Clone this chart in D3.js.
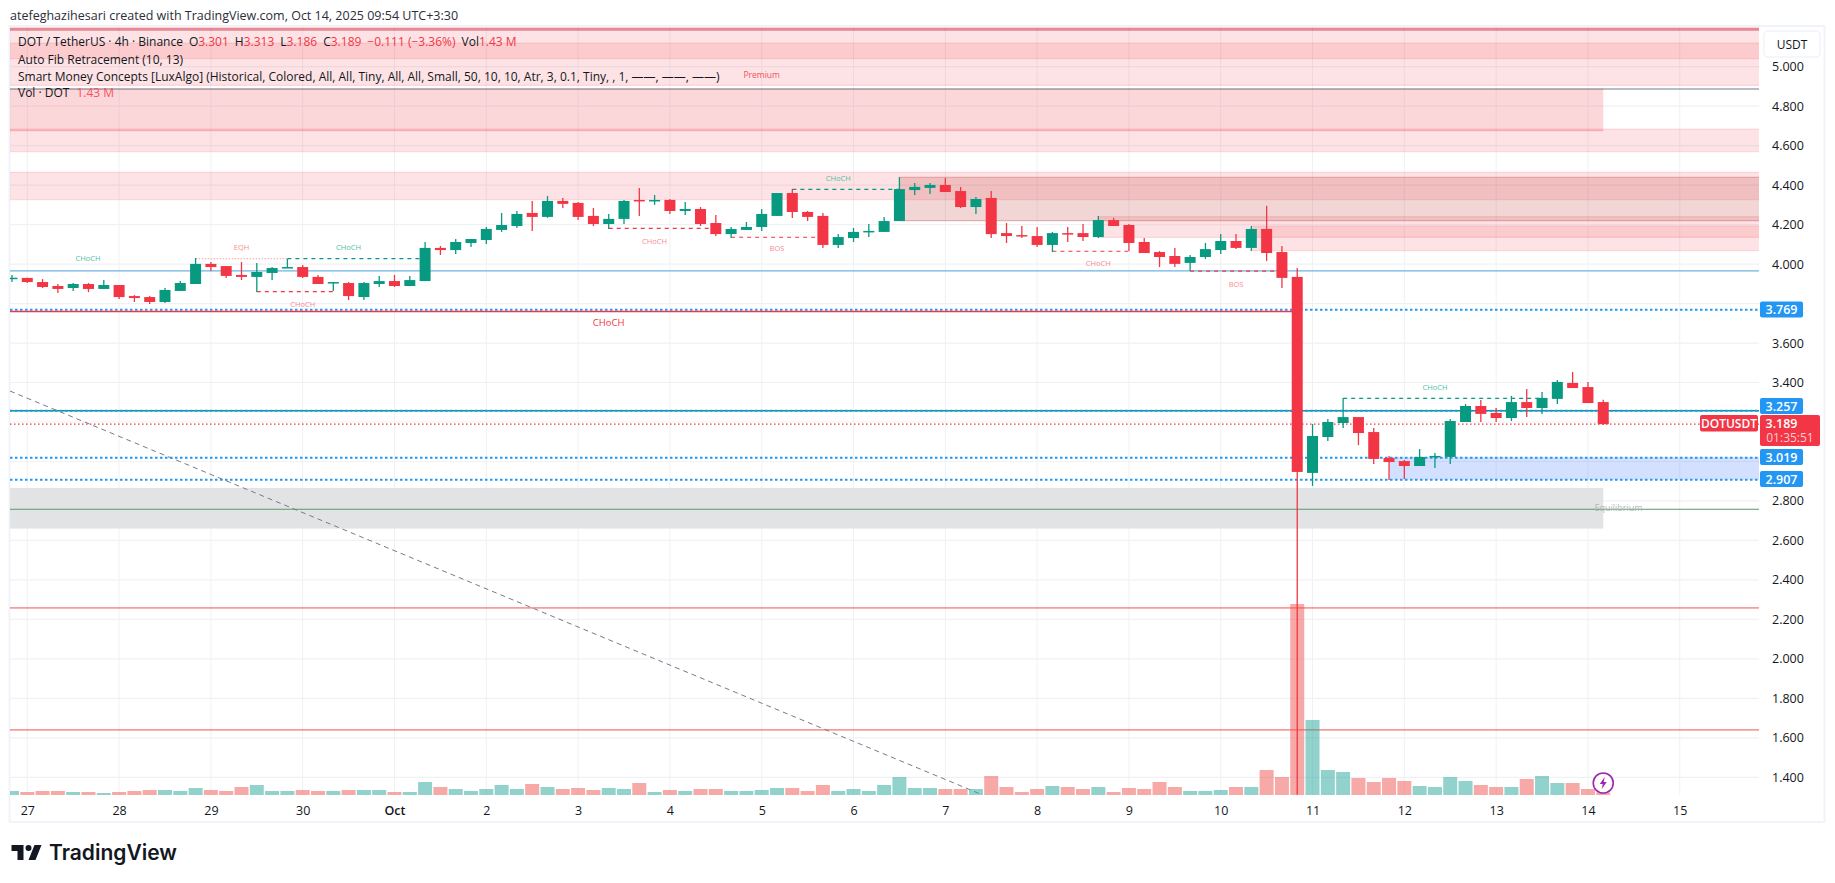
<!DOCTYPE html>
<html>
<head>
<meta charset="utf-8">
<title>DOTUSDT</title>
<script src="https://cdn.jsdelivr.net/npm/d3@7/dist/d3.min.js"></script>
<style>
    html, body { margin: 0; padding: 0; background: #fff; }
    svg { display: block; }
    text { font-family: "Open Sans", Roboto, sans-serif; }
</style>
</head>
<body>
<div id="chart"></div>
<script>
// candles start one 4h bar before Sep 27, index 0 = Sep 27 00:00
const firstIndex = -1;
const opens = [3.929,3.930,3.909,3.889,3.879,3.899,3.874,3.894,3.838,3.833,3.808,3.864,3.899,4.001,3.990,3.945,3.935,3.955,3.980,3.985,3.935,3.904,3.904,3.833,3.899,3.914,3.889,3.914,4.082,4.071,4.107,4.122,4.173,4.193,4.259,4.239,4.320,4.310,4.244,4.203,4.229,4.325,4.320,4.325,4.269,4.279,4.208,4.152,4.173,4.188,4.244,4.360,4.264,4.244,4.097,4.132,4.163,4.163,4.218,4.375,4.386,4.401,4.370,4.289,4.335,4.157,4.147,4.142,4.097,4.157,4.157,4.137,4.223,4.198,4.112,4.061,4.041,4.006,4.036,4.071,4.117,4.082,4.178,4.061,3.935,2.942,3.124,3.195,3.225,3.149,3.018,3.002,2.977,3.023,3.023,3.200,3.281,3.246,3.220,3.301,3.271,3.317,3.398,3.377,3.301];
const highs = [3.945,3.931,3.924,3.899,3.904,3.904,3.919,3.894,3.843,3.838,3.879,3.914,4.031,4.011,3.990,4.011,4.006,3.985,4.026,3.995,3.945,3.909,3.909,3.909,3.940,3.945,3.940,4.112,4.092,4.127,4.127,4.188,4.259,4.269,4.320,4.345,4.335,4.315,4.284,4.254,4.325,4.386,4.350,4.330,4.315,4.289,4.249,4.188,4.213,4.279,4.360,4.380,4.269,4.259,4.152,4.183,4.203,4.239,4.441,4.411,4.411,4.436,4.391,4.340,4.370,4.208,4.193,4.188,4.163,4.188,4.203,4.244,4.234,4.203,4.132,4.066,4.082,4.046,4.107,4.152,4.152,4.193,4.295,4.092,3.980,3.190,3.215,3.322,3.225,3.170,3.028,3.008,3.063,3.043,3.215,3.291,3.311,3.271,3.332,3.367,3.352,3.413,3.453,3.403,3.313];
const lows = [3.909,3.904,3.879,3.853,3.864,3.858,3.874,3.823,3.808,3.798,3.803,3.864,3.899,3.965,3.930,3.919,3.858,3.919,3.980,3.930,3.899,3.864,3.818,3.818,3.884,3.884,3.889,3.914,4.046,4.051,4.087,4.102,4.163,4.183,4.168,4.234,4.284,4.223,4.193,4.178,4.203,4.244,4.300,4.254,4.249,4.193,4.142,4.132,4.173,4.168,4.244,4.234,4.218,4.082,4.082,4.112,4.137,4.163,4.218,4.350,4.355,4.365,4.284,4.254,4.132,4.107,4.132,4.087,4.061,4.112,4.117,4.132,4.193,4.066,4.056,3.985,3.985,3.965,4.026,4.051,4.076,4.066,4.016,3.879,1.311,2.876,3.104,3.170,3.083,2.987,2.906,2.911,2.977,2.967,2.987,3.200,3.200,3.200,3.205,3.225,3.241,3.291,3.372,3.296,3.186];
const closes = [3.931,3.909,3.884,3.874,3.899,3.874,3.894,3.833,3.828,3.808,3.869,3.904,4.001,3.985,3.940,3.935,3.960,3.980,3.985,3.935,3.899,3.909,3.838,3.904,3.914,3.889,3.919,4.082,4.071,4.112,4.127,4.178,4.198,4.254,4.239,4.320,4.305,4.239,4.203,4.229,4.320,4.322,4.325,4.269,4.279,4.203,4.152,4.178,4.188,4.254,4.360,4.264,4.239,4.097,4.137,4.163,4.168,4.218,4.380,4.391,4.401,4.365,4.289,4.330,4.152,4.142,4.142,4.097,4.157,4.155,4.137,4.223,4.193,4.107,4.056,4.036,4.001,4.036,4.076,4.117,4.082,4.178,4.056,3.930,2.947,3.129,3.200,3.225,3.144,3.013,2.997,2.977,3.023,3.028,3.205,3.281,3.241,3.220,3.301,3.271,3.322,3.403,3.372,3.296,3.189];
// volume in millions
const volumes = [2.4,1.8,2.4,2.4,1.8,1.8,1.2,1.8,2.4,3,3,2.4,4.2,3,2.4,4.8,6,2.4,2.4,3,2.4,2.4,3,3,3,1.8,1.8,7.8,4.8,3.6,2.4,3.6,6,3.6,6.6,4.8,3.6,4.2,3,4.2,3.6,7.2,1.8,3,2.4,3.6,3.6,2.4,2.4,3,4.2,4.2,2.4,6,2.4,3.6,2.4,6,10.8,4.2,4.2,3.6,3.6,3.6,11.4,4.8,1.8,3.6,5.4,4.8,3.6,4.8,1.8,4.2,3.6,7.8,4.8,2.4,2.4,3,4.8,4.8,15,10.8,114.6,45,15,13.8,10.2,7.8,10.2,8.4,5.4,4.8,10.8,8.4,6,4.8,4.8,9.6,11.4,7.2,7.2,3.6,1.43];

const dayLabels = ['27','28','29','30','Oct','2','3','4','5','6','7','8','9','10','11','12','13','14','15'];
const dayIndex = [0,6,12,18,24,30,36,42,48,54,60,66,72,78,84,90,96,102,108];
const priceGrid = [5,4.8,4.6,4.4,4.2,4,3.8,3.6,3.4,3.2,3,2.8,2.6,2.4,2.2,2,1.8,1.6,1.4];
const priceTicks = [5,4.8,4.6,4.4,4.2,4,3.6,3.4,2.8,2.6,2.4,2.2,2,1.8,1.6,1.4];

// zones: start index, end index (null = right edge), top, bottom
const pinkZones = [
    [null, null, 5.201, 4.905],
    [null, null, 5.119, 5.041],
    [null, null, 4.684, 4.569],
    [null, null, 4.465, 4.326],
    [70, null, 4.240, 4.135],
    [80, null, 4.193, 4.068]
];
const strongZone = [null, 103, 4.887, 4.676];
const topStrip = [null, null, 5.196, 5.182];
const darkZone = [57, null, 4.440, 4.220];
const blueZone = [89, null, 3.022, 2.908];
const greyZone = [null, 103, 2.866, 2.660];

const blueDotted = [3.769, 3.257, 3.019, 2.907];
const lastClose = 3.189;
const fibLineGrey = 4.887;
const equilibrium = 2.758;
const fibRed = [2.258, 1.640];
const redLevel = 3.76;
const tealLevel = 3.257;
const blueLevel = 3.966;
const diagIndex = [-1.13, 62.27];
const diagPrice = [3.357, 1.316];

// structure lines: start, end, price, then label text, index, price
const structStart = [15, 17, 38, 46, 50, 67, 76, 86];
const structEnd = [20, 26, 45, 52, 57, 72, 82, 99];
const structPrice = [3.861, 4.028, 4.181, 4.136, 4.379, 4.065, 3.964, 3.320];
const structUp = [false, true, false, false, true, false, false, true];
const labelText = ['CHoCH', 'CHoCH', 'CHoCH', 'BOS', 'CHoCH', 'CHoCH', 'BOS', 'CHoCH'];
const labelIndex = [18, 21, 41, 49, 53, 70, 79, 92];
const labelPrice = [3.799, 4.088, 4.119, 4.080, 4.438, 4.004, 3.901, 3.379];

const W = 1835, H = 883;
const plotLeft = 10, plotRight = 1759, plotTop = 27, paneBottom = 795, frameBottom = 822;
const UP = '#089981', DOWN = '#F23645', BLUE = '#2196F3';

const x = d3.scaleLinear().domain([-1.13, 113.18]).range([plotLeft, plotRight]);
const y = d3.scaleLinear().domain([1.4, 5]).range([777.3, 66.7]);
const v = d3.scaleLinear().domain([0, 114.6]).range([paneBottom, 604]);

const svg = d3.select('#chart').append('svg').attr('width', W).attr('height', H);

svg.append('defs').append('clipPath').attr('id', 'pane')
    .append('rect').attr('x', plotLeft).attr('y', plotTop).attr('width', plotRight - plotLeft).attr('height', paneBottom - plotTop);

svg.append('text').attr('x', 10).attr('y', 19.5).attr('font-size', 12.5).attr('fill', '#2a2e39')
    .text('atefeghazihesari created with TradingView.com, Oct 14, 2025 09:54 UTC+3:30');

svg.append('rect').attr('x', 9.5).attr('y', 26).attr('width', 1815).attr('height', frameBottom - 26)
    .attr('fill', 'none').attr('stroke', '#f0f3fa').attr('stroke-width', 2);

const pane = svg.append('g').attr('clip-path', 'url(#pane)');

// grid
pane.selectAll('.gy').data(priceGrid).enter().append('line')
    .attr('x1', plotLeft).attr('x2', plotRight)
    .attr('y1', d => y(d)).attr('y2', d => y(d))
    .attr('stroke', '#f0f1f4').attr('stroke-width', 1.2);
pane.selectAll('.gx').data(dayIndex).enter().append('line')
    .attr('x1', d => x(d)).attr('x2', d => x(d))
    .attr('y1', plotTop).attr('y2', paneBottom)
    .attr('stroke', '#f0f1f4').attr('stroke-width', 1);

function drawZone(z, fill, stroke, sw) {
    const x0 = z[0] === null ? plotLeft : x(z[0]);
    const x1 = z[1] === null ? plotRight : x(z[1]);
    const g = pane.append('g');
    g.append('rect').attr('x', x0).attr('width', x1 - x0)
        .attr('y', y(z[2])).attr('height', y(z[3]) - y(z[2])).attr('fill', fill);
    if (stroke) {
        [z[2], z[3]].forEach(p => {
            g.append('line').attr('x1', x0).attr('x2', x1).attr('y1', y(p)).attr('y2', y(p))
                .attr('stroke', stroke).attr('stroke-width', sw);
        });
    }
}

pinkZones.forEach(z => drawZone(z, 'rgba(242,54,69,0.14)', 'rgba(242,54,69,0.14)', 1.2));
drawZone(strongZone, 'rgba(242,54,69,0.2)', 'rgba(242,54,69,0.22)', 1.2);
drawZone(topStrip, 'rgba(200,30,50,0.45)', null);
drawZone(darkZone, 'rgba(183,28,28,0.18)', 'rgba(183,28,28,0.28)', 1.2);
drawZone(blueZone, 'rgba(41,98,255,0.2)', null);
drawZone(greyZone, '#e2e3e5', null);

function hLine(p, color, sw, dash, endIdx) {
    pane.append('line').attr('x1', plotLeft).attr('x2', endIdx ? x(endIdx) : plotRight)
        .attr('y1', y(p)).attr('y2', y(p))
        .attr('stroke', color).attr('stroke-width', sw)
        .attr('stroke-dasharray', dash || null);
}

hLine(fibLineGrey, '#787b86', 1.2);
hLine(equilibrium, '#5a9a66', 1.1);
fibRed.forEach(p => hLine(p, '#ef5350', 1));
hLine(blueLevel, '#6fb1e3', 1.2);
hLine(tealLevel, UP, 1.3);
hLine(redLevel, DOWN, 1.5, null, 83);
blueDotted.forEach(p => hLine(p, BLUE, 2, '2.5 2.5'));
hLine(lastClose, DOWN, 1.2, '1.5 2.5');

pane.append('line')
    .attr('x1', x(diagIndex[0])).attr('y1', y(diagPrice[0]))
    .attr('x2', x(diagIndex[1])).attr('y2', y(diagPrice[1]))
    .attr('stroke', '#787b86').attr('stroke-width', 1).attr('stroke-dasharray', '5 4');

// volume
const candleIdx = d3.range(opens.length);
const isUp = i => closes[i] >= opens[i];

pane.selectAll('.vol').data(candleIdx).enter().append('rect')
    .attr('x', i => x(i + firstIndex) - 7)
    .attr('width', 14)
    .attr('y', i => v(volumes[i]))
    .attr('height', i => paneBottom - v(volumes[i]))
    .attr('fill', i => isUp(i) ? 'rgba(38,166,154,0.5)' : 'rgba(239,83,80,0.5)');

// structure lines and labels
pane.selectAll('.struct').data(structStart).enter().append('line')
    .attr('x1', d => x(d))
    .attr('x2', (d, i) => x(structEnd[i]))
    .attr('y1', (d, i) => y(structPrice[i]))
    .attr('y2', (d, i) => y(structPrice[i]))
    .attr('stroke', (d, i) => structUp[i] ? UP : DOWN)
    .attr('stroke-width', 1.2)
    .attr('stroke-dasharray', '4 4');

// equal high, dotted
pane.append('line').attr('x1', x(11)).attr('x2', x(17))
    .attr('y1', y(4.027)).attr('y2', y(4.027))
    .attr('stroke', '#f9a0a8').attr('stroke-width', 1.2).attr('stroke-dasharray', '1.5 1.5');

// candles
pane.selectAll('.wick').data(candleIdx).enter().append('line')
    .attr('x1', i => x(i + firstIndex)).attr('x2', i => x(i + firstIndex))
    .attr('y1', i => y(highs[i])).attr('y2', i => y(lows[i]))
    .attr('stroke', i => isUp(i) ? UP : DOWN).attr('stroke-width', 1.3);
pane.selectAll('.body').data(candleIdx).enter().append('rect')
    .attr('x', i => x(i + firstIndex) - 5.5)
    .attr('width', 11)
    .attr('y', i => y(Math.max(opens[i], closes[i])))
    .attr('height', i => Math.max(1.5, Math.abs(y(opens[i]) - y(closes[i]))))
    .attr('fill', i => isUp(i) ? UP : DOWN);

// labels on top
pane.selectAll('.slabel').data(labelText).enter().append('text')
    .attr('x', (d, i) => x(labelIndex[i]))
    .attr('y', (d, i) => y(labelPrice[i]))
    .attr('text-anchor', 'middle').attr('dominant-baseline', 'central')
    .attr('font-size', 7.5)
    .attr('fill', (d, i) => structUp[i] ? '#4fbfa8' : '#f98a94')
    .text(d => d);

function chartLabel(text, idx, price, color, size) {
    pane.append('text').attr('x', x(idx)).attr('y', y(price))
        .attr('text-anchor', 'middle').attr('dominant-baseline', 'central')
        .attr('font-size', size).attr('fill', color).text(text);
}
chartLabel('CHoCH', 3.97, 4.032, '#4fbfa8', 7.5);
chartLabel('EQH', 14, 4.088, '#f98a94', 7.5);
chartLabel('CHoCH', 38, 3.702, DOWN, 9.5);
chartLabel('Premium', 48, 4.961, '#f4525f', 8.5);
chartLabel('Equilibrium', 104, 2.765, '#b5b7bb', 9);

// axes
const yAxis = svg.append('g').attr('transform', `translate(${plotRight + 10},0)`)
    .call(d3.axisRight(y).tickValues(priceTicks).tickFormat(d3.format('.3f')).tickSize(0));
yAxis.select('.domain').remove();
yAxis.selectAll('text').attr('font-size', 12.5).attr('fill', '#131722')
    .style('font-family', '"Open Sans", Roboto, sans-serif');

const xAxis = svg.append('g').attr('transform', `translate(0,${paneBottom + 8})`)
    .call(d3.axisBottom(x).tickValues(dayIndex).tickFormat((d, i) => dayLabels[i]).tickSize(0));
xAxis.select('.domain').remove();
xAxis.selectAll('text').attr('font-size', 12.5).attr('fill', '#131722')
    .style('font-family', '"Open Sans", Roboto, sans-serif')
    .attr('font-weight', d => d === 24 ? 600 : 400);

// price tags
function tag(x0, w, y0, h, fill) {
    svg.append('rect').attr('x', x0).attr('y', y0).attr('width', w).attr('height', h)
        .attr('rx', 2).attr('fill', fill);
}
function tagText(text, cx, cy, color, size) {
    svg.append('text').attr('x', cx).attr('y', cy).attr('text-anchor', 'middle')
        .attr('dominant-baseline', 'central').attr('font-size', size || 12.5)
        .attr('font-weight', 600).attr('fill', color).text(text);
}
tag(1760, 43, 301.5, 16, BLUE); tagText('3.769', 1781.5, 309.5, '#fff');
tag(1760, 43, 398, 16, BLUE); tagText('3.257', 1781.5, 406, '#fff');
tag(1760, 43, 449, 16, BLUE); tagText('3.019', 1781.5, 457, '#fff');
tag(1760, 43, 471, 16, BLUE); tagText('2.907', 1781.5, 479, '#fff');
tag(1700, 58, 415, 16.5, DOWN); tagText('DOTUSDT', 1729, 423.2, '#fff', 12);
tag(1760, 60, 415, 31, DOWN); tagText('3.189', 1781.5, 423, '#fff');
svg.append('text').attr('x', 1790).attr('y', 437.7).attr('text-anchor', 'middle')
    .attr('dominant-baseline', 'central').attr('font-size', 12).attr('fill', '#fbd0d4').text('01:35:51');

svg.append('rect').attr('x', 1764).attr('y', 31).attr('width', 56).attr('height', 26).attr('rx', 4)
    .attr('fill', '#fff').attr('stroke', '#f0f3fa').attr('stroke-width', 1.5);
svg.append('text').attr('x', 1792).attr('y', 44.3).attr('text-anchor', 'middle')
    .attr('dominant-baseline', 'central').attr('font-size', 12).attr('fill', '#131722').text('USDT');

// legend
const legend = svg.append('g').attr('font-size', 12).attr('fill', '#131722');
const row1 = legend.append('text').attr('x', 18).attr('y', 46);
[['DOT / TetherUS · 4h · Binance', '#131722', 0], ['O', '#131722', 6], ['3.301', DOWN, 0],
 ['H', '#131722', 6], ['3.313', DOWN, 0], ['L', '#131722', 6], ['3.186', DOWN, 0],
 ['C', '#131722', 6], ['3.189', DOWN, 0], ['−0.111 (−3.36%)', DOWN, 6],
 ['Vol', '#131722', 6], ['1.43 M', DOWN, 0]].forEach(s => {
    row1.append('tspan').attr('dx', s[2]).attr('fill', s[1]).text(s[0]);
});
legend.append('text').attr('x', 18).attr('y', 63.5).text('Auto Fib Retracement (10, 13)');
legend.append('text').attr('x', 18).attr('y', 80.5)
    .text('Smart Money Concepts [LuxAlgo] (Historical, Colored, All, All, Tiny, All, All, Small, 50, 10, 10, Atr, 3, 0.1, Tiny, , 1, ——, ——, ——)');
const row4 = legend.append('text').attr('x', 18).attr('y', 97);
row4.append('tspan').text('Vol · DOT');
row4.append('tspan').attr('dx', 7).attr('fill', '#f7525f').text('1.43 M');

// bolt marker on the last bar
const bolt = svg.append('g').attr('transform', `translate(${x(103)},783)`);
bolt.append('circle').attr('r', 10).attr('fill', '#fff').attr('stroke', '#9c27b0').attr('stroke-width', 1.6);
bolt.append('path').attr('d', 'M1.5 -6 L-3.5 1 L-0.5 1 L-1.5 6 L3.5 -1 L0.5 -1 Z').attr('fill', '#9c27b0');

// logo
const logo = svg.append('g').attr('transform', 'translate(9.5,839)');
logo.append('path')
    .attr('d', 'M14 6H2v6h6v9h6V6zm12 15h-7l6-15h7l-6 15zm-7-9a3 3 0 1 0 0-6 3 3 0 0 0 0 6z')
    .attr('fill', '#131722');
svg.append('text').attr('x', 49).attr('y', 860).attr('font-size', 21).attr('font-weight', 600)
    .style('font-family', 'Inter, sans-serif').attr('fill', '#131722').text('TradingView');
</script>
</body>
</html>
